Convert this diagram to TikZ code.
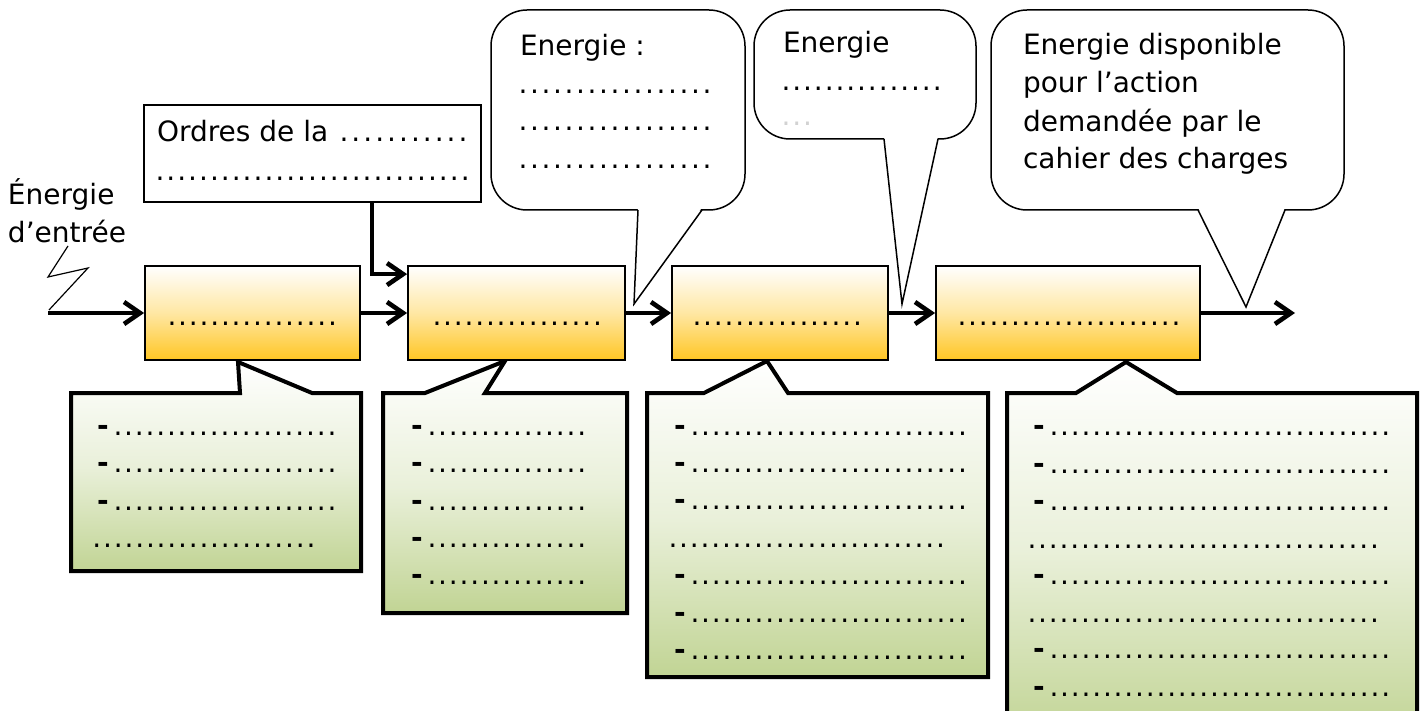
\documentclass[tikz,border=0pt]{standalone}
\usepackage{fontspec}
\setmainfont{DejaVu Sans}
\usetikzlibrary{arrows.meta,calc}

\definecolor{obot}{RGB}{255,198,36}
\definecolor{gbot}{RGB}{193,212,148}

% a row of n dots, each set in a box of the given width
\newcount\dotcnt
\newcommand{\dotline}[2]{\dotcnt=0 \loop\makebox[#2]{.}\advance\dotcnt by 1 \ifnum\dotcnt<#1\repeat}
% a dash followed by n dots
\newcommand{\dashline}[1]{\makebox[7.8pt][l]{\textbf{-}}\dotline{#1}{5.35pt}}

\begin{document}
\begin{tikzpicture}[x=0.5pt, y=-0.5pt,
  font=\fontsize{14}{19}\selectfont,
  txt/.style={anchor=base west, inner sep=0pt, outer sep=0pt},
  flow/.style={line width=2.3pt, -{Straight Barb[length=8pt,width=11pt]}},
  block/.style={draw, line width=0.9pt, top color=white, bottom color=obot,
                middle color=obot!42!white, inner sep=0pt, minimum height=47pt},
  note/.style={draw, line width=2pt, line join=miter, top color=white,
               bottom color=gbot, middle color=gbot!35!white},
  bubble/.style={draw, line width=0.75pt, fill=white, rounded corners=18pt},
  tail/.style={draw, line width=0.75pt, line join=miter}
]
\path[use as bounding box] (0,0) rectangle (1424,711);
\clip (0,0) rectangle (1424,711);

% ---------- lower notes (drawn first, the blocks sit on their tips)
\path[note] (71,571) -- (71,393) -- (240,393) -- (238,362) -- (312,393)
  -- (361,393) -- (361,571) -- cycle;
\path[note] (383,613) -- (383,393) -- (425,393) -- (505,361) -- (485,393)
  -- (627,393) -- (627,613) -- cycle;
\path[note] (647,677) -- (647,393) -- (704,393) -- (767,361) -- (788,393)
  -- (988,393) -- (988,677) -- cycle;
\path[note] (1007,740) -- (1007,393) -- (1076,393) -- (1126,362) -- (1177,393)
  -- (1417,393) -- (1417,740) -- cycle;

% note contents
\foreach \y [count=\i] in {435,472,510}
  \node[txt] (na\i) at (97,\y) {\dashline{21}};
\node[txt] (na4) at (91.6,547) {\dotline{21}{5.35pt}};

\foreach \y [count=\i] in {435,472,510,547,584}
  \node[txt] (nb\i) at (411,\y) {\dashline{15}};

\foreach \y [count=\i] in {435,472,509,584,622,659}
  \node[txt] (nc\i) at (674,\y) {\dashline{26}};
\node[txt] (nc7) at (667.6,547) {\dotline{26}{5.35pt}};

\foreach \y [count=\i] in {435,473,510,584,658,696}
  \node[txt] (nd\i) at (1033,\y) {\dashline{32}};
\foreach \y [count=\i from 7] in {548,622}
  \node[txt] (nd\i) at (1026.6,\y) {\dotline{33}{5.35pt}};

% ---------- chain of blocks
\node[block, minimum width=107.5pt] (b1) at (252.5,313) {};
\node[block, minimum width=108.5pt] (b2) at (516.5,313) {};
\node[block, minimum width=108pt]   (b3) at (780,313) {};
\node[block, minimum width=132pt]   (b4) at (1068,313) {};

\node[txt] (t1) at (166.6,325) {\dotline{16}{5.35pt}};
\node[txt] (t2) at (431.6,325) {\dotline{16}{5.35pt}};
\node[txt] (t3) at (691.6,325) {\dotline{16}{5.35pt}};
\node[txt] (t4) at (956.6,325) {\dotline{21}{5.35pt}};

\coordinate (src) at (48,313);
\coordinate (out) at (1295,313);
\draw[flow] (src) -- (b1.west);
\draw[flow] (b1.east) -- (b2.west);
\draw[flow] (b2.east) -- (b3.west);
\draw[flow] (b3.east) -- (b4.west);
\draw[flow] (b4.east) -- (out);

% input energy
\node[txt] (in1) at (8,205) {Énergie};
\node[txt] (in2) at (8,243) {d’entrée};
\draw[line width=0.6pt, line join=miter] (src) ++(1,-3) -- (88,268) -- (48,277) -- (68,246);

% ---------- control orders
\node[draw, line width=1pt, minimum width=168.5pt, minimum height=48.5pt,
      inner sep=0pt] (ordres) at (312.5,153.5) {};
\node[txt] (o1) at (157,142) {\makebox[156pt]{Ordres de la\hfill\dotline{11}{5.95pt}}};
\node[txt] (o2) at (154.5,181) {\dotline{29}{5.45pt}};
\draw[flow] ($(ordres.south)+(59.5,0)$) |- ([yshift=-4.5pt]b2.north west);

% ---------- speech bubbles above the chain
\draw[bubble] (491,10) rectangle (745,210);
\fill[white] (638,207.5) -- (634,304) -- (702,207.5) -- cycle;
\draw[tail] (638,210) -- (634,304) -- (702,210);
\node[txt] (e1) at (520,56) {Energie :};
\foreach \y [count=\i] in {94,131,169}
  \node[txt] (e1d\i) at (517.25,\y) {\dotline{17}{5.75pt}};

\draw[bubble] (754,10) rectangle (976,139);
\fill[white] (884,136.5) -- (902,304) -- (938,136.5) -- cycle;
\draw[tail] (884,139) -- (902,304) -- (938,139);
\node[txt] (e2) at (783,53) {Energie};
\node[txt] (e2d) at (780.6,91) {\dotline{15}{5.4pt}};
\node[txt, text=gray!35] (e2f) at (780.6,126) {\dotline{3}{5.4pt}};

\draw[bubble] (991,10) rectangle (1344,210);
\fill[white] (1198,207.5) -- (1246,307) -- (1285,207.5) -- cycle;
\draw[tail] (1198,210) -- (1246,307) -- (1285,210);
\node[txt] (e3a) at (1023,55)  {Energie disponible};
\node[txt] (e3b) at (1023,93)  {pour l’action};
\node[txt] (e3c) at (1023,132) {demandée par le};
\node[txt] (e3d) at (1023,169) {cahier des charges};
\end{tikzpicture}
\end{document}
